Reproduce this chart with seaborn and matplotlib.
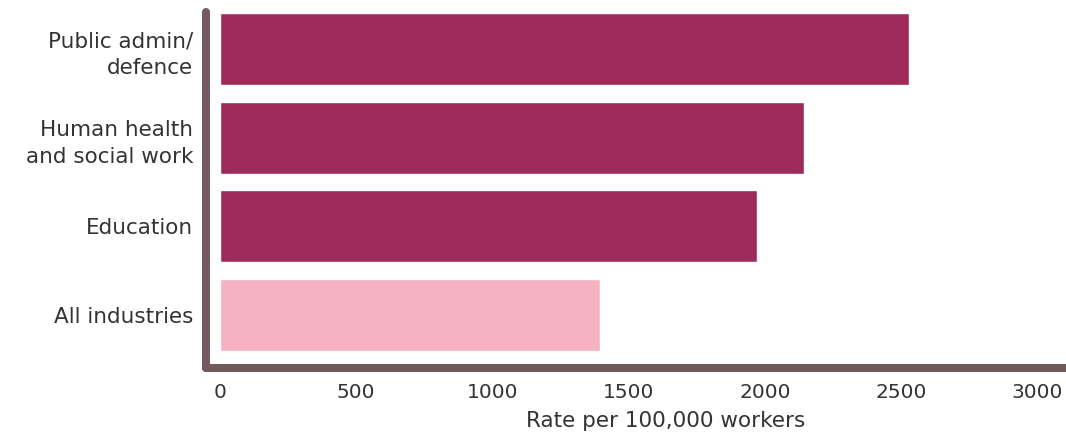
import matplotlib
matplotlib.use("Agg")
import matplotlib.pyplot as plt
import seaborn as sns
import pandas as pd

categories = ["Public admin/\ndefence", "Human health\nand social work", "Education", "All industries"]
rates = [2530, 2145, 1970, 1395]
bar_colors = ["#9E2A5A", "#9E2A5A", "#9E2A5A", "#F4B2C2"]
x_ticks = [0, 500, 1000, 1500, 2000, 2500, 3000]

sns.set_theme(style="white")
plt.rcParams["font.family"] = ["DejaVu Sans"]

df = pd.DataFrame({"category": categories, "rate": rates})

fig = plt.figure(figsize=(10.66, 4.36), dpi=100)
ax = fig.add_axes([206 / 1066, 68 / 436, (1066 - 206) / 1066, (368 - 12) / 436])

sns.barplot(data=df, x="rate", y="category", hue="category", palette=bar_colors,
            orient="h", width=0.81, legend=False, ax=ax, saturation=1)

ax.set_xlim(-51, 3105)
ax.set_ylim(3.6, -0.42)
ax.set_xticks(x_ticks)
ax.set_xticklabels([str(t) for t in x_ticks])
ax.set_xlabel("Rate per 100,000 workers", fontsize=15.5, color="#333333", labelpad=7)
ax.xaxis.set_label_coords(0.535, -0.121)
ax.xaxis.label.set_va("top")
ax.set_ylabel("")

spine_col = "#735A5E"
for s in ["top", "right"]:
    ax.spines[s].set_visible(False)
for s in ["left", "bottom"]:
    ax.spines[s].set_color(spine_col)
    ax.spines[s].set_linewidth(5.8)
    ax.spines[s].set_capstyle("round")

ax.tick_params(axis="x", length=0, pad=11, labelsize=14.5, labelcolor="#333333")
ax.tick_params(axis="y", length=0, pad=9, labelsize=15.5, labelcolor="#333333")
for lbl in ax.get_yticklabels():
    lbl.set_multialignment("right")
    lbl.set_linespacing(1.45)

fig.savefig("out.png", dpi=100)
